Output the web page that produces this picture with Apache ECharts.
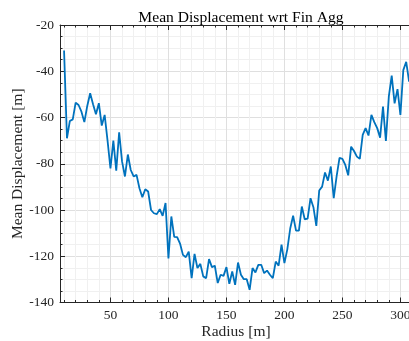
<!DOCTYPE html>
<html>
<head>
<meta charset="utf-8">
<script src="https://cdn.jsdelivr.net/npm/echarts@6/dist/echarts.min.js"></script>
<style>
html,body{margin:0;padding:0;background:#fff;}
#chart{width:409px;height:341px;}
</style>
</head>
<body>
<div id="chart"></div>
<script>
// ---- data ----
const radius = [];
for (let i = 0; i < 120; i++) radius.push(10 + 2.5 * i);
const meanDisplacement = [
  -31, -69, -61.5, -60.8, -53.6, -54.6, -57.5, -62, -55, -49.5,
  -54.3, -58.6, -53.8, -63.5, -58.9, -70, -82, -70, -83, -66.4,
  -79, -85.5, -76, -82.7, -85.5, -84.8, -90.6, -94.5, -91, -92,
  -100, -101.4, -101.8, -99.6, -102.5, -97, -121, -102.8, -111.6, -111.7,
  -114.5, -119.4, -120.4, -118, -129.5, -119, -125.1, -123.3, -128.7, -129.5,
  -121.2, -124.7, -124.1, -131.6, -128, -128.5, -124.7, -131.9, -126.6, -132.4,
  -122.7, -128, -129.9, -129.9, -134.5, -125.1, -127, -123.7, -123.7, -127.3,
  -126.2, -128, -129.5, -122.3, -124.1, -115, -123, -117, -108, -102.5,
  -108.9, -108.9, -98.5, -104, -103.7, -94.9, -98.8, -106.9, -91.6, -89.9,
  -83.8, -87.3, -81.2, -94.9, -85.5, -77.5, -77.9, -80.5, -85, -72.6,
  -74.5, -76.9, -77.9, -67.5, -64.6, -67.8, -58.9, -62, -64.6, -68.7,
  -55.3, -70.1, -51, -41.9, -53.9, -47.7, -58.9, -39.5, -35.9, -44.5
];
const xMajorTicks = [50, 100, 150, 200, 250, 300];
const xMinorTicks = [10, 20, 30, 40, 60, 70, 80, 90, 110, 120, 130, 140, 160, 170, 180, 190, 210, 220, 230, 240, 260, 270, 280, 290, 310];
const titleText = 'Mean Displacement wrt Fin Agg';
const xName = 'Radius [m]';
const yName = 'Mean Displacement [m]';

// ---- chart ----
const FONT = 'Liberation Serif';
const AXC = '#262626';
const XMIN = 6.5, XMAX = 310;
const chart = echarts.init(document.getElementById('chart'), null, {renderer: 'canvas'});

const baseX = {
  type: 'value', gridIndex: 0, min: XMIN, max: XMAX,
  axisLine: {show: false}, axisLabel: {show: false},
  axisTick: {show: false}, splitLine: {show: false}
};

chart.setOption({
  animation: false,
  backgroundColor: '#ffffff',
  title: {
    text: titleText, left: 236, top: 4.5, textAlign: 'center',
    textStyle: {fontFamily: FONT, fontSize: 15.6, fontWeight: 'normal', color: '#000'}
  },
  grid: {left: 60, top: 25, bottom: 38.5, right: -3, containLabel: false, outerBoundsMode: 'none'},
  xAxis: [
    Object.assign({}, baseX, {
      position: 'bottom',
      axisLine: {show: true, onZero: false, lineStyle: {color: AXC, width: 1}},
      axisTick: {show: true, inside: true, length: 5, customValues: xMajorTicks, lineStyle: {color: AXC}},
      axisLabel: {show: true, customValues: xMajorTicks, margin: 6, fontFamily: FONT, fontSize: 13.5, color: '#262626'},
      splitLine: {show: true, lineStyle: {color: '#dfdfdf', width: 1}},
      name: xName, nameLocation: 'middle', nameGap: 21, nameMoveOverlap: false,
      nameTextStyle: {fontFamily: FONT, fontSize: 15.5, color: '#262626'}
    }),
    Object.assign({}, baseX, {
      position: 'bottom',
      axisTick: {show: true, inside: true, length: 2.5, customValues: xMinorTicks, lineStyle: {color: AXC}},
      splitLine: {show: true, lineStyle: {color: '#f0f0f0', width: 1}}
    }),
    Object.assign({}, baseX, {
      position: 'top',
      axisLine: {show: true, onZero: false, lineStyle: {color: AXC, width: 1}},
      axisTick: {show: true, inside: true, length: 5, customValues: xMajorTicks, lineStyle: {color: AXC}}
    }),
    Object.assign({}, baseX, {
      position: 'top',
      axisTick: {show: true, inside: true, length: 2.5, customValues: xMinorTicks, lineStyle: {color: AXC}}
    })
  ],
  yAxis: [{
    type: 'value', min: -140, max: -20, interval: 20, position: 'left',
    axisLine: {show: true, onZero: false, lineStyle: {color: AXC, width: 1}},
    axisTick: {show: true, inside: true, length: 5, lineStyle: {color: AXC}},
    minorTick: {show: true, splitNumber: 4, length: 2.5, lineStyle: {color: AXC}},
    axisLabel: {margin: 6, fontFamily: FONT, fontSize: 13.5, color: '#262626'},
    splitLine: {show: true, lineStyle: {color: '#dfdfdf', width: 1}},
    minorSplitLine: {show: true, lineStyle: {color: '#f0f0f0', width: 1}},
    name: yName, nameLocation: 'middle', nameGap: 34, nameMoveOverlap: false,
    nameTextStyle: {fontFamily: FONT, fontSize: 15.5, color: '#262626'}
  }],
  series: [{
    type: 'line', xAxisIndex: 0, yAxisIndex: 0,
    data: radius.map((r, i) => [r, meanDisplacement[i]]),
    symbol: 'none', clip: true,
    lineStyle: {color: '#0072BD', width: 1.8},
    z: 5
  }]
});
</script>
</body>
</html>
